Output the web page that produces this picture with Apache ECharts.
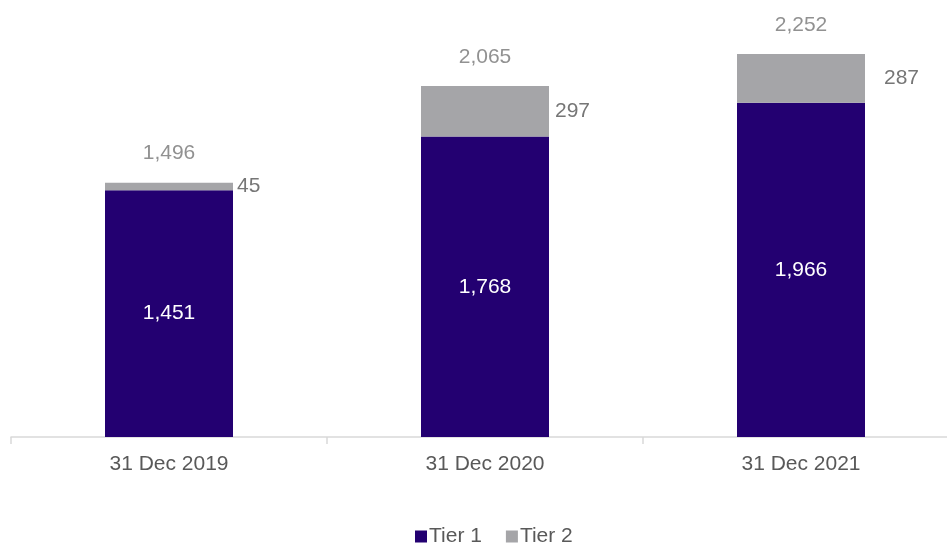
<!DOCTYPE html>
<html><head><meta charset="utf-8">
<script src="https://cdn.jsdelivr.net/npm/echarts@6/dist/echarts.min.js"></script>
<style>html,body{margin:0;padding:0;background:#fff;overflow:hidden}#c{width:959px;height:543px}</style>
</head><body><div id="c"></div>
<script>
const categories = ['31 Dec 2019', '31 Dec 2020', '31 Dec 2021'];
const tier1 = [1451, 1768, 1966];
const tier2 = [45, 297, 287];
const totals = [1496, 2065, 2252];

const tier2LabelDistance = [4, 6, 19];
const fmt = v => v.toLocaleString('en-US');
const font = '"Liberation Sans", Arial, sans-serif';

const chart = echarts.init(document.getElementById('c'));
chart.setOption({
  animation: false,
  grid: { left: 11, right: 0, top: 12, bottom: 106 },
  xAxis: {
    type: 'category', data: categories,
    axisLine: { lineStyle: { color: '#d9d9d9', width: 1.5 } },
    axisTick: { show: true, length: 7, lineStyle: { color: '#d9d9d9', width: 1.5 } },
    axisLabel: { color: '#595959', fontSize: 21, fontFamily: font, margin: 17 }
  },
  yAxis: { type: 'value', min: 0, max: 2500, show: false, splitLine: { show: false } },
  legend: {
    top: 521, left: 410, data: ['Tier 1', 'Tier 2'],
    icon: 'rect', itemWidth: 12, itemHeight: 12, itemGap: 24,
    textStyle: { color: '#595959', fontSize: 21, fontFamily: font, padding: [0, 0, 0, -3] }
  },
  series: [
    {
      name: 'Tier 1', type: 'bar', stack: 's', barWidth: 128,
      data: tier1,
      itemStyle: { color: '#230071' },
      label: { show: true, position: 'inside', color: '#fff', fontSize: 21, fontFamily: font,
        formatter: p => fmt(p.value) }
    },
    {
      name: 'Tier 2', type: 'bar', stack: 's', barWidth: 128,
      data: tier2.map((v, i) => ({ value: v, label: { distance: tier2LabelDistance[i] } })),
      itemStyle: { color: '#a5a5a8' },
      label: { show: true, position: 'right', color: '#767676', fontSize: 21, fontFamily: font,
        formatter: p => fmt(p.value) }
    },
    {
      name: 'Total', type: 'scatter', data: totals, symbolSize: 1,
      itemStyle: { color: 'rgba(0,0,0,0)' },
      label: { show: true, position: 'top', distance: 18, color: '#767676', fontSize: 21, fontFamily: font,
        formatter: p => fmt(p.value) }
    }
  ]
});
</script></body></html>
